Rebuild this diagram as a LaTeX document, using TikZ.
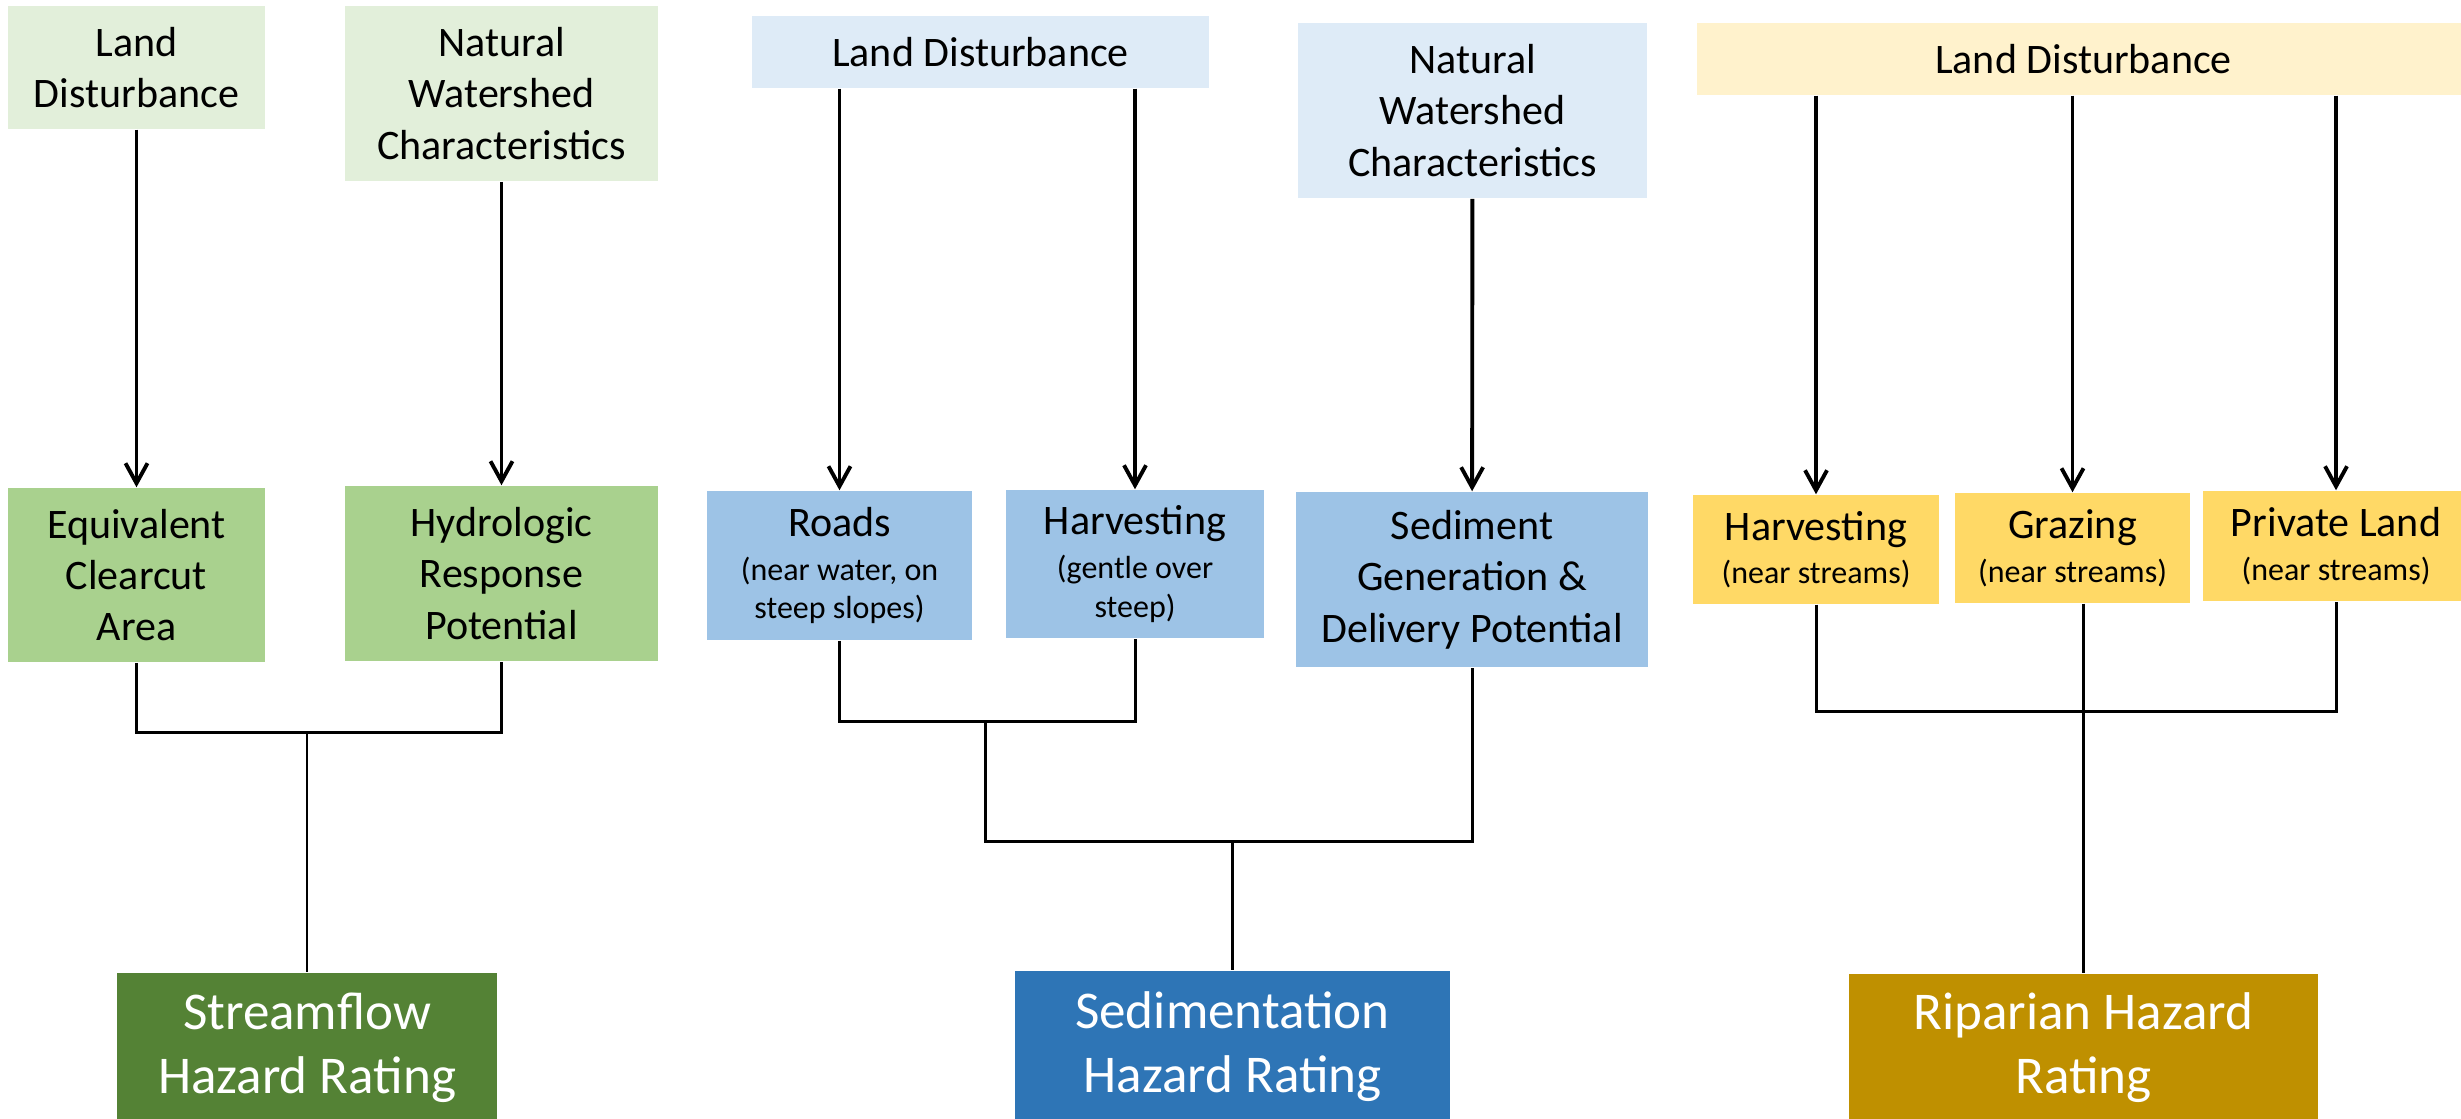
\documentclass[tikz,border=0pt]{standalone}
\usepackage{fontspec}
\setmainfont{Carlito}
\usepackage{tikz}
\usetikzlibrary{arrows.meta}

\definecolor{greenA}{HTML}{E2EFDA}
\definecolor{greenB}{HTML}{A9D18E}
\definecolor{greenC}{HTML}{548235}
\definecolor{blueA}{HTML}{DEEBF7}
\definecolor{blueB}{HTML}{9DC3E6}
\definecolor{blueC}{HTML}{2E75B6}
\definecolor{goldA}{HTML}{FFF2CC}
\definecolor{goldB}{HTML}{FFD966}
\definecolor{goldC}{HTML}{BF9000}

\newcommand{\note}{\fontsize{9.1}{10.9}\selectfont}

\begin{document}
\begin{tikzpicture}[x=0.01cm,y=-0.01cm,
    box/.style={inner sep=0pt, align=center, font=\fontsize{11.95}{14.6}\selectfont},
    rating/.style={box, text=white, font=\fontsize{15.1}{18.2}\selectfont},
    arr/.style={line width=1.1pt, -{Straight Barb[length=0.2cm,width=0.22cm]}},
    link/.style={line width=0.85pt}]
    \useasboundingbox (0,0) rectangle (2461,1118);
    \clip (0,0) rectangle (2461,1118);

    % streamflow
    \node[box, fill=greenA, minimum width=2.57cm, minimum height=1.23cm] (ld1) at (136.5,67.5) {Land\\Disturbance};
    \node[box, fill=greenA, minimum width=3.13cm, minimum height=1.75cm] (nwc1) at (501.5,93.5) {Natural\\Watershed\\Characteristics};
    \node[box, fill=greenB, minimum width=2.57cm, minimum height=1.74cm] (eca) at (136.5,575) {Equivalent\\Clearcut\\Area};
    \node[box, fill=greenB, minimum width=3.13cm, minimum height=1.75cm] (hrp) at (501.5,573.5) {Hydrologic\\Response\\Potential};
    \node[rating, fill=greenC, minimum width=3.79cm, minimum height=1.50cm] (shr) at (307,1048) {Streamflow\\Hazard Rating};

    % sedimentation
    \node[box, fill=blueA, minimum width=4.57cm, minimum height=0.72cm] (ld2) at (980.5,52) {Land Disturbance};
    \node[box, fill=blueA, minimum width=3.49cm, minimum height=1.75cm] (nwc2) at (1472.5,110.5) {Natural\\Watershed\\Characteristics};
    \node[box, fill=blueB, minimum width=2.65cm, minimum height=1.49cm] (roads) at (839.5,565.5) {Roads\\[-2pt]\note (near water, on\\[-3.7pt]\note steep slopes)};
    \node[box, fill=blueB, minimum width=2.58cm, minimum height=1.48cm] (harv2) at (1135,564) {Harvesting\\[-2pt]\note (gentle over\\[-3.7pt]\note steep)};
    \node[box, fill=blueB, minimum width=3.52cm, minimum height=1.75cm] (sdp) at (1472,579.5) {Sediment\\Generation \&\\Delivery Potential};
    \node[rating, fill=blueC, minimum width=4.35cm, minimum height=1.51cm] (sedhr) at (1232.5,1046.5) {Sedimentation\\Hazard Rating};

    % riparian
    \node[box, fill=goldA, minimum width=7.73cm, minimum height=0.72cm] (ld3) at (2083.5,59) {Land Disturbance};
    \node[box, fill=goldB, minimum width=2.46cm, minimum height=1.09cm] (harv3) at (1816,549.5) {Harvesting\\[-2.2pt]\note (near streams)};
    \node[box, fill=goldB, minimum width=2.35cm, minimum height=1.10cm] (graz) at (2072.5,548) {Grazing\\[-2.2pt]\note (near streams)};
    \node[box, fill=goldB, minimum width=2.66cm, minimum height=1.10cm] (priv) at (2336,546) {Private Land\\[-2.2pt]\note (near streams)};
    \node[rating, fill=goldC, minimum width=4.69cm, minimum height=1.48cm] (rhr) at (2083.5,1048) {Riparian Hazard\\Rating};

    \draw[arr] (ld1) -- (eca);
    \draw[arr] (nwc1) -- (hrp);
    \draw[arr] (ld2.south -| roads.north) -- (roads.north);
    \draw[arr] (ld2.south -| harv2.north) -- (harv2.north);
    \draw[arr] (nwc2) -- (sdp);
    \draw[arr] (ld3.south -| harv3.north) -- (harv3.north);
    \draw[arr] (ld3.south -| graz.north) -- (graz.north);
    \draw[arr] (ld3.south -| priv.north) -- (priv.north);

    \coordinate (j1) at (307,732);
    \draw[link] (eca.south) |- (j1) -| (hrp.south);
    \draw[link] (j1) -- (shr.north);

    \coordinate (j2) at (985,721);
    \coordinate (j3) at (1232.5,841);
    \draw[link] (roads.south) |- (j2) -| (harv2.south);
    \draw[link] (j2) |- (j3) -| (sdp.south);
    \draw[link] (j3) -- (sedhr.north);

    \coordinate (j4) at (2083.5,711);
    \draw[link] (harv3.south) |- (j4) -| (priv.south);
    \draw[link] (graz.south -| j4) -- (rhr.north);
\end{tikzpicture}
\end{document}
